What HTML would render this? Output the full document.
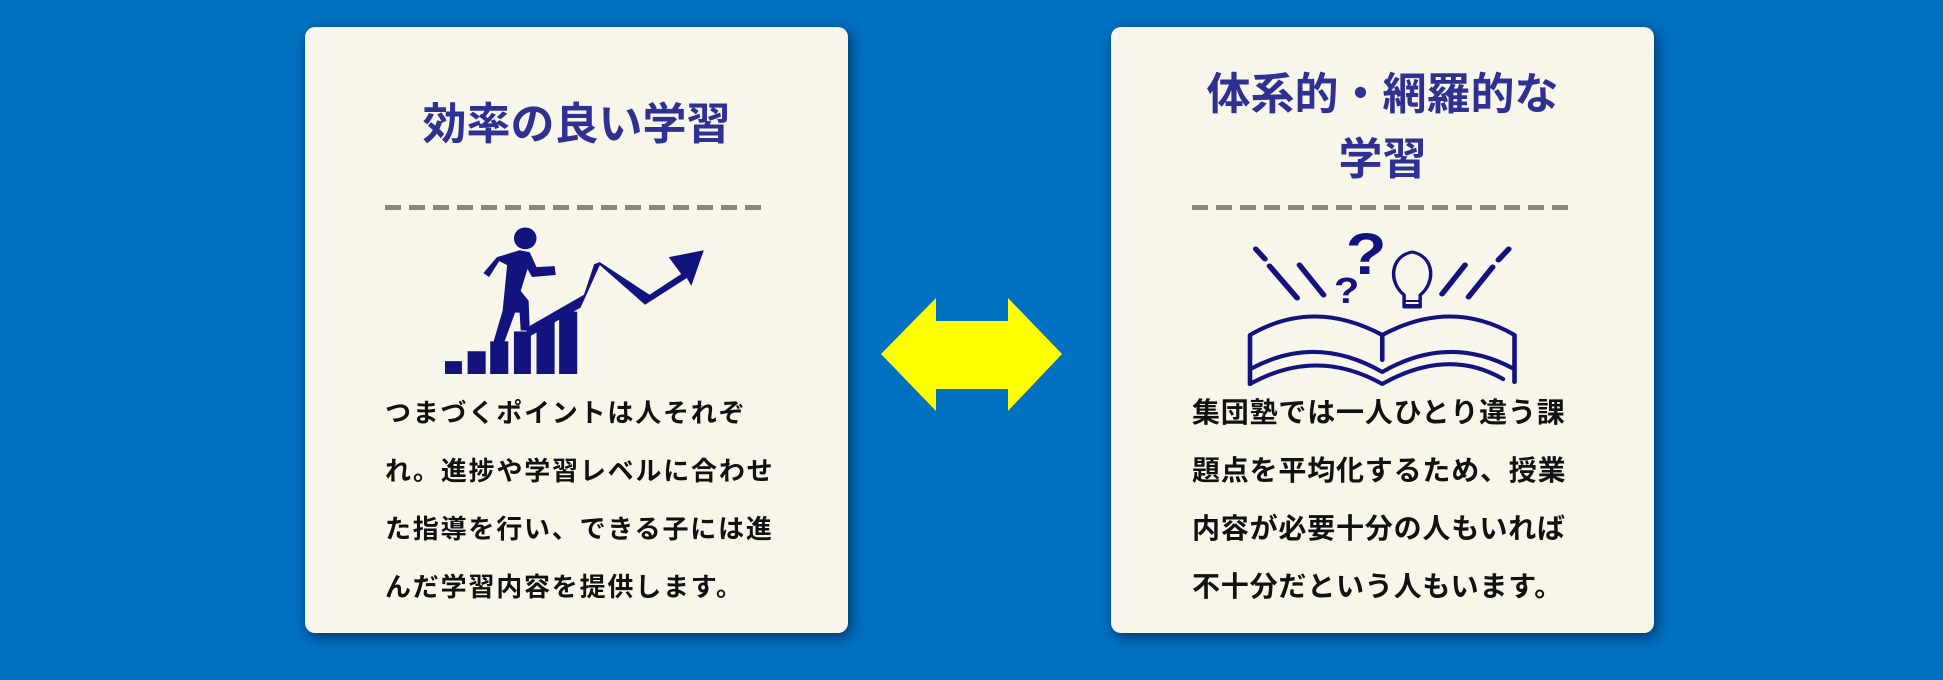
<!DOCTYPE html>
<html><head><meta charset="utf-8"><style>
html,body{margin:0;padding:0}
body{width:1943px;height:680px;background:#0071c1;position:relative;overflow:hidden;font-family:"Liberation Sans","Noto Sans CJK JP",sans-serif}
.card{position:absolute;top:27px;width:543px;height:606px;background:#f8f6eb;border-radius:10px;box-shadow:3px 4px 14px rgba(0,20,60,.65)}
.t{position:absolute;left:0;width:100%;text-align:center;color:#2e3192;font-weight:bold;font-size:44px}
.dash{position:absolute;top:178px;height:5px;background:repeating-linear-gradient(90deg,#888 0 16px,transparent 16px 24px)}
.body{position:absolute;font-weight:bold;color:#111;white-space:nowrap}
.body div{height:58px;line-height:58px}
svg{position:absolute;left:0;top:0}
</style></head><body>
<div class="card" style="left:305px">
  <div class="t" style="top:68px;line-height:60px">効率の良い学習</div>
  <div class="dash" style="left:80px;width:383px"></div>
  <div class="body" style="left:80px;top:357px;font-size:26px;letter-spacing:1.8px"><div>つまづくポイントは人それぞ</div><div>れ。進捗や学習レベルに合わせ</div><div>た指導を行い、できる子には進</div><div>んだ学習内容を提供します。</div></div>
</div>
<div class="card" style="left:1111px">
  <div class="t" style="top:35px;line-height:65px">体系的・網羅的な<br>学習</div>
  <div class="dash" style="left:81px;width:382px"></div>
  <div class="body" style="left:81px;top:357px;font-size:28px;letter-spacing:0.8px"><div>集団塾では一人ひとり違う課</div><div>題点を平均化するため、授業</div><div>内容が必要十分の人もいれば</div><div>不十分だという人もいます。</div></div>
</div>
<svg width="1943" height="680" viewBox="0 0 1943 680">
  <polygon points="881,354 936,298 936,321 1008,321 1008,298 1062,354 1008,411 1008,389 936,389 936,411" fill="#ffff00"/>
  <g fill="#13137f" transform="translate(445,374) scale(1.13,0.99) translate(-423,-376)">
    <rect x="423" y="363" width="15" height="13"/><rect x="443" y="353" width="16" height="23"/>
    <rect x="463" y="343" width="16" height="33"/><rect x="484" y="333" width="15" height="43"/>
    <rect x="504" y="323" width="16" height="53"/><rect x="524" y="313" width="16" height="63"/>
    <ellipse cx="494" cy="239" rx="10" ry="11"/>
    <polygon points="469,258 489,251 498,253 504,268 520,267 521,276 500,278 496,270 490,292 497,302 498,332 490,332 489,314 485,314 472,355 464,351 474,312 478,266 471,262 462,278 457,274"/>
    <polygon points="652,251 641,287 637,279 600,306 560,266 543,309 498,338 494,330 546,296 555,265 560,263 604,296 632,275 621,258"/>
  </g>
  <g transform="translate(1250,384) scale(1.15,1.0) translate(-1232,-382)">
  <g stroke="#13137f" stroke-width="5" stroke-linecap="round" fill="none">
    <line x1="1237" y1="247" x2="1245" y2="257"/><line x1="1249" y1="264" x2="1273" y2="296"/><line x1="1275" y1="263" x2="1296" y2="293"/>
    <line x1="1457" y1="247" x2="1448" y2="258"/><line x1="1443" y1="265" x2="1422" y2="295"/><line x1="1419" y1="263" x2="1399" y2="292"/>
  </g>
  <g stroke="#13137f" stroke-width="4" fill="none" stroke-linejoin="round" stroke-linecap="round">
    <path d="M1232,382 L1232,333 Q1287,296 1347,333 Q1407,296 1462,333 L1462,380"/>
    <path d="M1347,333 L1347,358"/>
    <path d="M1234,366 Q1290,332 1347,370 Q1404,332 1460,366"/>
    <path d="M1232,382 Q1290,345 1347,382 Q1404,345 1452,377"/>
    <path d="M1366,293 C1352,280 1354,254 1373,250 C1392,254 1394,280 1380,293 L1380,305 L1366,305 Z" stroke-width="3"/>
    <path d="M1367,299 L1379,299 M1368,303 L1378,303" stroke-width="2"/>
  </g>
  <text x="1333" y="272" font-size="58" font-weight="bold" fill="#13137f" text-anchor="middle" font-family="Liberation Sans, sans-serif">?</text>
  <text x="1316" y="301" font-size="36" font-weight="bold" fill="#13137f" text-anchor="middle" font-family="Liberation Sans, sans-serif">?</text>
  </g>
</svg>
</body></html>
